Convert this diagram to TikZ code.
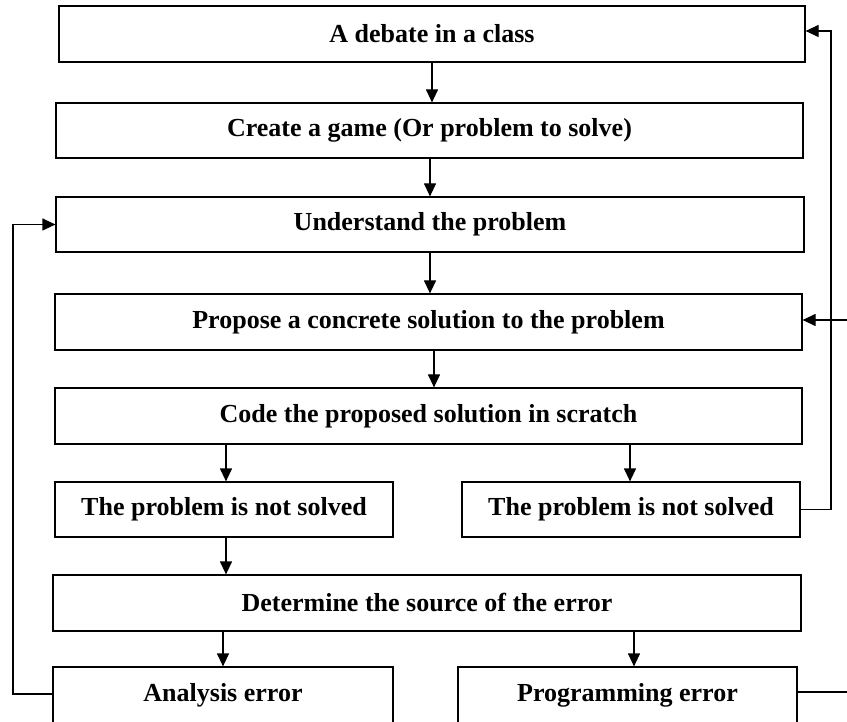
\documentclass[tikz,border=0pt]{standalone}
\usepackage{fontspec}
\setmainfont{Liberation Serif}
\usetikzlibrary{arrows.meta}
\begin{document}
\begin{tikzpicture}[x=1pt,y=-1pt,
  box/.style={draw, line width=1.2pt, rectangle, inner sep=0pt, font=\fontsize{26}{30}\selectfont\bfseries},
  conn/.style={line width=1.2pt, -{Triangle[length=13pt,width=12pt]}},
  plain/.style={line width=1.2pt}]
\useasboundingbox (0,0) rectangle (847,722);
\node[box, minimum width=746pt, minimum height=56pt] (b1) at (432,34) {A debate in a class};
\node[box, minimum width=747pt, minimum height=55pt] (b2) at (429.5,130.5) {Create a game (Or problem to solve)};
\node[box, minimum width=748pt, minimum height=55pt] (b3) at (430,224.5) {Understand the problem};
\node[box, minimum width=747pt, minimum height=56pt] (b4) at (428.5,322) {Propose a concrete solution to the problem};
\node[box, minimum width=747pt, minimum height=56pt] (b5) at (428.5,416) {Code the proposed solution in scratch};
\node[box, minimum width=338pt, minimum height=55pt] (b6a) at (224,509.5) {The problem is not solved};
\node[box, minimum width=338pt, minimum height=55pt] (b6b) at (631,509.5) {The problem is not solved};
\node[box, minimum width=748pt, minimum height=56pt] (b7) at (427,603) {Determine the source of the error};
\node[box, minimum width=340pt, minimum height=56pt] (b8a) at (223,695) {Analysis error};
\node[box, minimum width=339pt, minimum height=56pt] (b8b) at (627.5,695) {Programming error};
% vertical arrows
\draw[conn] (b1.south -| 432,0) -- (b2.north -| 432,0);
\draw[conn] (b2.south -| 430,0) -- (b3.north -| 430,0);
\draw[conn] (b3.south -| 430,0) -- (b4.north -| 430,0);
\draw[conn] (b4.south -| 434,0) -- (b5.north -| 434,0);
\draw[conn] (b5.south -| 226,0) -- (b6a.north -| 226,0);
\draw[conn] (b5.south -| 630,0) -- (b6b.north -| 630,0);
\draw[conn] (b6a.south -| 226,0) -- (b7.north -| 226,0);
\draw[conn] (b7.south -| 223,0) -- (b8a.north -| 223,0);
\draw[conn] (b7.south -| 634,0) -- (b8b.north -| 634,0);
% feedback loops
\coordinate (rtop) at (831,31);
\coordinate (rbot) at (831,509.5);
\draw[conn] (b6b.east) -- (rbot) -- (rtop) -- (b1.east |- rtop);
\coordinate (rin) at (847,320);
\draw[conn] (rin) -- (b4.east |- rin);
\coordinate (lbot) at (13,694);
\coordinate (ltop) at (13,224.5);
\draw[conn] (b8a.west |- lbot) -- (lbot) -- (ltop) -- (b3.west);
\coordinate (rout) at (847,692);
\draw[plain] (b8b.east |- rout) -- (rout);
\end{tikzpicture}
\end{document}
